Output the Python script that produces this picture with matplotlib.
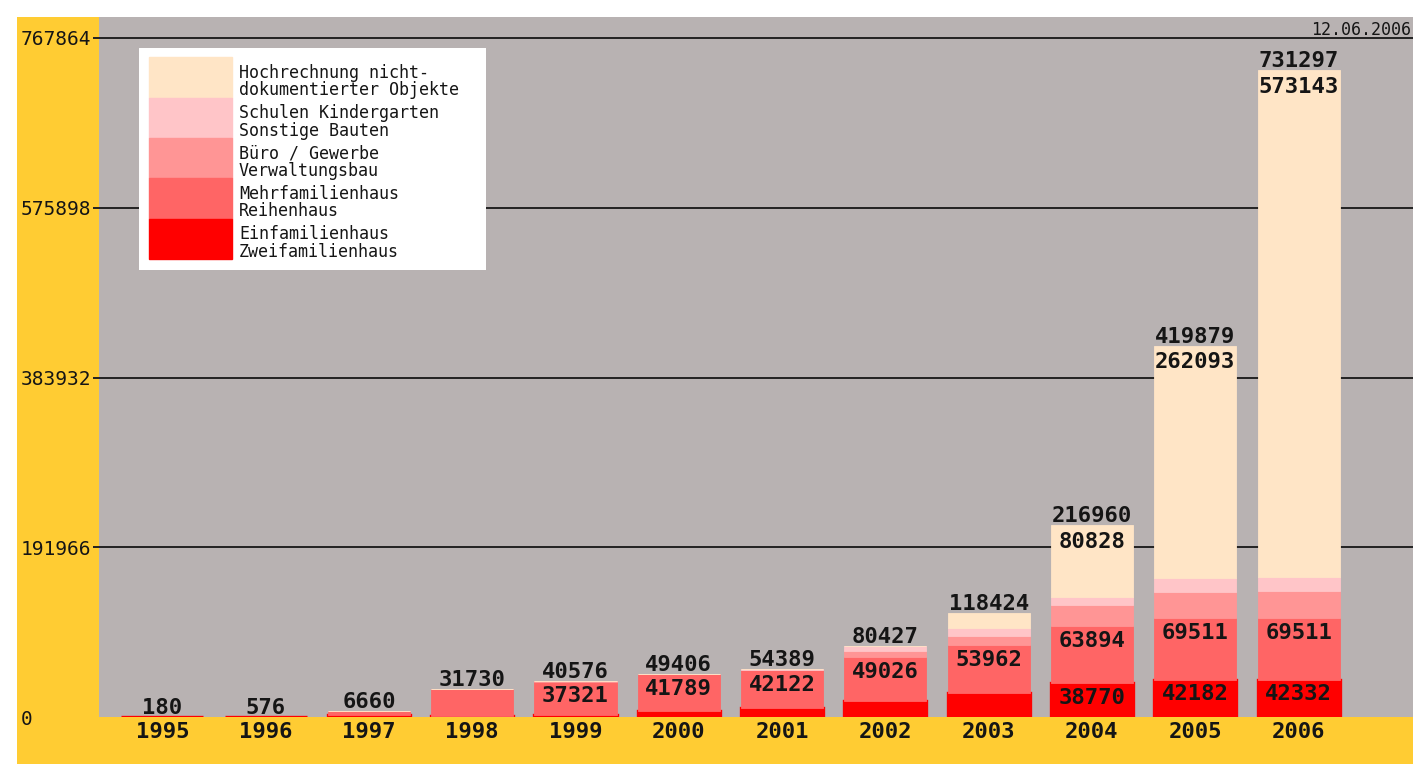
import matplotlib
matplotlib.use("Agg")
import matplotlib.pyplot as plt
from matplotlib.patches import Rectangle
import numpy as np

# ---------------- data ----------------
years = ["1995", "1996", "1997", "1998", "1999", "2000",
         "2001", "2002", "2003", "2004", "2005", "2006"]
einfamilien = [180, 576, 2500, 1400, 3000, 6800, 10800, 18850, 27700, 38770, 42182, 42332]
mehrfamilien = [0, 0, 4160, 30330, 37321, 41789, 42122, 49026, 53962, 63894, 69511, 69511]
buero = [0, 0, 0, 0, 180, 500, 900, 7300, 10280, 24000, 30260, 30400]
schulen = [0, 0, 0, 0, 75, 317, 567, 5251, 8860, 9468, 15833, 15911]
hochrechnung = [0, 0, 0, 0, 0, 0, 0, 0, 17622, 80828, 262093, 573143]
yticks = [0, 191966, 383932, 575898, 767864]
show_mehr_label = [False, False, False, False, True, True, True, True, True, True, True, True]
show_ein_label = [False] * 9 + [True, True, True]
show_hoch_label = [False] * 9 + [True, True, True]
legend_labels = [
    ("Hochrechnung nicht-", "dokumentierter Objekte"),
    ("Schulen Kindergarten", "Sonstige Bauten"),
    ("Büro / Gewerbe", "Verwaltungsbau"),
    ("Mehrfamilienhaus", "Reihenhaus"),
    ("Einfamilienhaus", "Zweifamilienhaus"),
]
date_text = "12.06.2006"

# ---------------- style ----------------
C_EIN = "#FF0000"
C_MEHR = "#FF6565"
C_BUERO = "#FF9595"
C_SCHUL = "#FFC5C8"
C_HOCH = "#FFE5C6"
GRAY = "#B8B2B2"
YELLOW = "#FFCC33"
INK = "#151515"
MONO = "DejaVu Sans Mono"

W, H = 1413, 764
fig = plt.figure(figsize=(W / 100, H / 100), dpi=100)
fig.patch.set_facecolor("white")

# yellow frame as a background axes
bg = fig.add_axes([17 / W, 0, 1 - 17 / W, 1 - 17 / H], zorder=-10)
bg.set_facecolor(YELLOW)
bg.set_xticks([])
bg.set_yticks([])
for s in bg.spines.values():
    s.set_visible(False)

top_px, bot_px, left_px = 17.3, 717.3, 99
ax = fig.add_axes([left_px / W, 1 - bot_px / H, (W - left_px) / W, (bot_px - top_px) / H],
                  zorder=1)
ax.set_facecolor(GRAY)
for s in ax.spines.values():
    s.set_visible(False)

x = np.arange(len(years))
spacing = 103.3
ax.set_xlim((left_px - 162.3) / spacing, (W - 162.3) / spacing)
ax.set_ylim(0, 767864 * (bot_px - top_px) / (bot_px - 38.0))

width = 0.795
series = [einfamilien, mehrfamilien, buero, schulen, hochrechnung]
colors = [C_EIN, C_MEHR, C_BUERO, C_SCHUL, C_HOCH]
bottom = np.zeros(len(years))
tops = []
for i, (vals, col) in enumerate(zip(series, colors)):
    vals = np.array(vals, dtype=float)
    ax.bar(x, vals, width, bottom=bottom, color=col,
           edgecolor=col, linewidth=2.4 if i == 0 else 0.6,
           zorder=3)
    bottom = bottom + vals
    tops.append(bottom.copy())

totals = tops[-1]
ein_top = tops[0]
mehr_top = tops[1]

lab_kw = dict(textcoords="offset points", ha="center", fontsize=16,
              fontweight="bold", family=MONO, color=INK, zorder=5)
px = 0.72  # points per pixel
for i in range(len(years)):
    ax.annotate(f"{int(round(totals[i]))}", (x[i], totals[i]), xytext=(0, 3.0 * px),
                va="baseline", **lab_kw)
    if show_hoch_label[i]:
        ax.annotate(f"{hochrechnung[i]}", (x[i], totals[i]), xytext=(0, -6.5 * px),
                    va="top", **lab_kw)
    if show_mehr_label[i]:
        ax.annotate(f"{mehrfamilien[i]}", (x[i], mehr_top[i]), xytext=(0, -4.5 * px),
                    va="top", **lab_kw)
    if show_ein_label[i]:
        ax.annotate(f"{einfamilien[i]}", (x[i], ein_top[i]), xytext=(0, -4.5 * px),
                    va="top", **lab_kw)

# axes ticks
ax.set_xticks(x)
ax.set_xticklabels(years, fontsize=16, fontweight="bold", family=MONO, color=INK)
ax.tick_params(axis="x", length=0, pad=3.4)

ax.set_yticks(yticks)
ax.set_yticklabels([str(v) for v in yticks], fontsize=14, family=MONO, color=INK)
ax.tick_params(axis="y", length=4.3, width=1.4, color="#222222", pad=52.1)
for lbl in ax.get_yticklabels():
    lbl.set_horizontalalignment("left")
ax.yaxis.grid(True, color="#222222", linewidth=1.4, zorder=1)
ax.set_axisbelow(True)
yt = ax.yaxis.get_major_ticks()
yt[0].gridline.set_visible(False)
yt[0].tick1line.set_visible(False)

# date stamp
fig.text(1411 / W, 1 - 35 / H, date_text, ha="right", va="baseline",
         fontsize=12, family=MONO, color=INK, zorder=5)

# legend (custom box)
lx0, ly0, lw_, lh_ = 139, 48, 347, 222
lax = fig.add_axes([lx0 / W, 1 - (ly0 + lh_) / H, lw_ / W, lh_ / H], zorder=4)
lax.set_xlim(0, lw_)
lax.set_ylim(lh_, 0)
lax.axis("off")
lax.add_patch(Rectangle((0, 0), lw_, lh_, color="white"))
leg_colors = [C_HOCH, C_SCHUL, C_BUERO, C_MEHR, C_EIN]
for k, (col, (l1, l2)) in enumerate(zip(leg_colors, legend_labels)):
    y0 = 9.3 + 40.3 * k
    lax.add_patch(Rectangle((10, y0), 83, 40.3, color=col))
    lax.text(100, y0 + 20.5, l1, fontsize=12, family=MONO, color=INK, va="baseline")
    lax.text(100, y0 + 38.0, l2, fontsize=12, family=MONO, color=INK, va="baseline")

fig.savefig("out.png", dpi=100, facecolor=fig.get_facecolor())
